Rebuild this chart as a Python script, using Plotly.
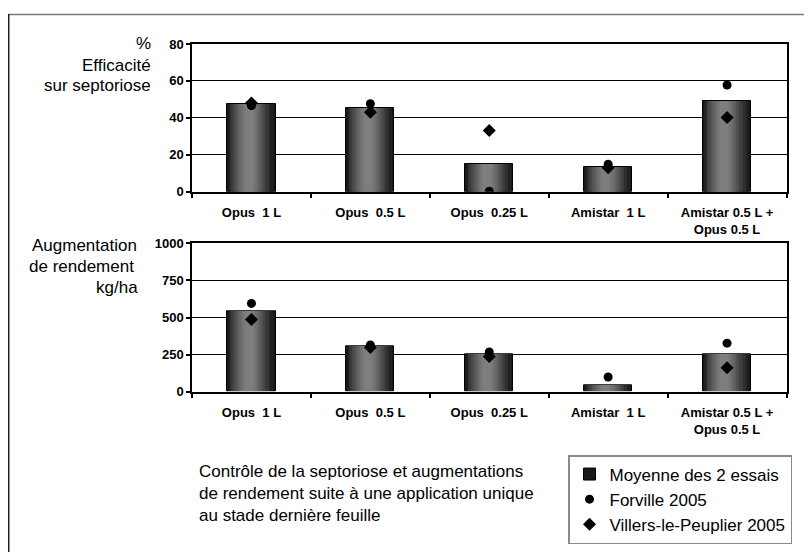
import plotly.graph_objects as go

categories = ["Opus\u00a0\u00a01 L", "Opus\u00a0\u00a00.5 L", "Opus\u00a0\u00a00.25 L", "Amistar\u00a0\u00a01 L", "Amistar 0.5 L +<br>Opus 0.5 L"]

eff_mean = [47.5, 45.2, 14.8, 13.6, 49.2]
eff_forville = [46.6, 47.7, 0.3, 14.9, 57.8]
eff_villers = [48.1, 43.0, 33.1, 13.0, 40.2]

yield_mean = [540, 305, 250, 42, 250]
yield_forville = [595, 315, 268, 99, 327]
yield_villers = [487, 298, 238, None, 162]

eff_ticks = [0, 20, 40, 60, 80]
yield_ticks = [0, 250, 500, 750, 1000]

W, H = 812, 552
DX, DY = 8, 8  # page (body margin) offset compensation
FONT = "Liberation Sans, Arial, sans-serif"

fig = go.Figure()

# bar "cylinder" shading layers: (width fraction, centre shift, colour)
BW = 0.405
shade = ["#141414", "#212121", "#2e2e2e", "#3b3b3b", "#474747", "#525252",
         "#5d5d5d", "#676767", "#707070", "#787878", "#7e7e7e"]
n = len(shade)
layers = [(1.0 - k * (0.92 / n), -0.022 * min(k, 4) / 4, c) for k, c in enumerate(shade)]

def add_bars(vals, xa, ya, show):
    for i, (f, sh, col) in enumerate(layers):
        w = BW * f
        fig.add_trace(go.Bar(
            x=categories, y=vals, xaxis=xa, yaxis=ya,
            width=w, offset=sh - w / 2,
            marker=dict(color=col if i else "#1a1a1a",
                        line=dict(color="#000000", width=1 if i == 0 else 0)),
            name="Moyenne des 2 essais", showlegend=(show and i == 0),
            legendgroup="moy", hoverinfo="skip" if i else None))

def add_points(forv, vill, xa, ya, show):
    fig.add_trace(go.Scatter(x=categories, y=forv, xaxis=xa, yaxis=ya, mode="markers",
                             marker=dict(symbol="circle", size=9, color="black"),
                             name="Forville 2005", showlegend=show, legendgroup="f"))
    fig.add_trace(go.Scatter(x=categories, y=vill, xaxis=xa, yaxis=ya, mode="markers",
                             marker=dict(symbol="diamond", size=10, color="black"),
                             name="Villers-le-Peuplier 2005", showlegend=show, legendgroup="v"))

add_bars(eff_mean, "x", "y", True)
add_points(eff_forville, eff_villers, "x", "y", True)
add_bars(yield_mean, "x2", "y2", False)
add_points(yield_forville, yield_villers, "x2", "y2", False)

def py(p):
    return 1 - (p - DY) / H

def px(p):
    return (p - DX) / W

xdom = [px(192), px(786.5)]
xax = dict(domain=xdom, type="category", showline=True, linecolor="black", linewidth=1.5,
           mirror=True, ticks="outside", tickson="boundaries", ticklen=5, tickcolor="black",
           tickwidth=1.5, showgrid=False, ticklabelstandoff=8,
           tickfont=dict(family=FONT, size=13, color="black", weight="bold"), fixedrange=True)
yax = dict(showline=True, linecolor="black", linewidth=1.5, mirror=True, ticks="outside",
           ticklen=4, tickcolor="black", tickwidth=1.5, showgrid=True, gridcolor="black",
           gridwidth=1, zeroline=False,
           tickfont=dict(family=FONT, size=13, color="black", weight="bold"))

fig.update_layout(
    width=W, height=H, margin=dict(l=0, r=0, t=0, b=0, autoexpand=False),
    paper_bgcolor="white", plot_bgcolor="white",
    barmode="overlay", bargap=0,
    xaxis=dict(xax, anchor="y"),
    yaxis=dict(yax, domain=[py(191.7), py(44)], range=[0, 80], tickvals=eff_ticks, anchor="x"),
    xaxis2=dict(xax, anchor="y2"),
    yaxis2=dict(yax, domain=[py(391.7), py(243.3)], range=[0, 1000], tickvals=yield_ticks, anchor="x2"),
    showlegend=True,
    legend=dict(x=px(568), y=py(455), xanchor="left", yanchor="top",
                bordercolor="#8a8a8a", borderwidth=1.5, bgcolor="white",
                font=dict(family=FONT, size=17, color="black"), itemwidth=30,
                tracegroupgap=0, traceorder="normal"),
    font=dict(family=FONT, color="black"),
)

ann = []
def label(text, x, y, size=17):
    ann.append(dict(text=text, x=px(x), y=py(y), xref="paper", yref="paper",
                    xanchor="right", yanchor="middle", showarrow=False, align="right",
                    font=dict(family=FONT, size=size, color="black")))

label("%", 153, 44)
label("Efficacité", 153, 65)
label("sur septoriose", 153, 86)
label("Augmentation", 139, 245)
label("de rendement", 136, 266)
label("kg/ha", 140, 287)

ann.append(dict(text="Contrôle de la septoriose et augmentations<br>de rendement suite à une application unique<br>au stade dernière feuille",
                x=px(197), y=py(493), xref="paper", yref="paper", xanchor="left", yanchor="middle",
                showarrow=False, align="left", font=dict(family=FONT, size=17, color="black")))
fig.update_layout(annotations=ann)

# outer frame (cropped at right and bottom)
fig.add_shape(type="line", xref="paper", yref="paper", x0=px(8.5), x1=1.0, y0=py(14.5), y1=py(14.5),
              line=dict(color="#7a7a7a", width=1.5))
fig.add_shape(type="line", xref="paper", yref="paper", x0=px(8.5), x1=px(8.5), y0=py(14), y1=0,
              line=dict(color="#222222", width=2))

fig.write_html("out.html")
